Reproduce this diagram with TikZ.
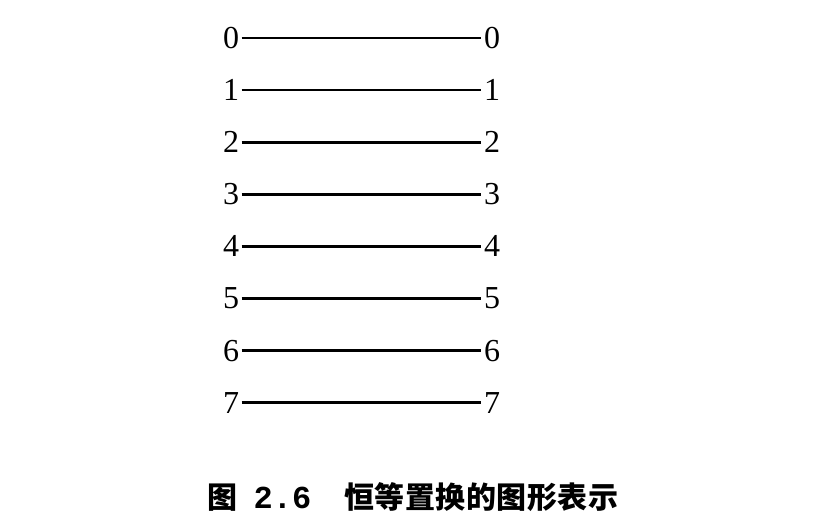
\documentclass[tikz,border=0pt]{standalone}
\usepackage{fontspec}
\setmainfont{Liberation Serif}
\newfontfamily\cjk{Noto Sans CJK SC}
\newfontfamily\capmono{Liberation Mono}
\begin{document}
\begin{tikzpicture}[x=1pt,y=-1pt,
  num/.style={font=\fontsize{32}{32}\selectfont, inner sep=2.5pt},
  wire/.style={line width=2.6pt}]
\useasboundingbox (0,0) rectangle (826,528);
\foreach \i in {0,...,7}{
  \node[num] (L\i) at (231,{38+52.1*\i}) {\i};
  \node[num] (R\i) at (492,{38+52.1*\i}) {\i};
  \draw[wire] (L\i.east) -- (R\i.west);
}
\node[anchor=west, font=\cjk\bfseries\fontsize{30}{30}\selectfont, inner sep=0pt] (cap) at (207,497) {图\hspace{0.55em}{\capmono\bfseries\fontsize{32}{32}\selectfont 2.6}\hspace{1.1em}恒\kern0.5pt 等\kern0.5pt 置\kern0.5pt 换\kern0.5pt 的\kern0.5pt 图\kern0.5pt 形\kern0.5pt 表\kern0.5pt 示};
\end{tikzpicture}
\end{document}
